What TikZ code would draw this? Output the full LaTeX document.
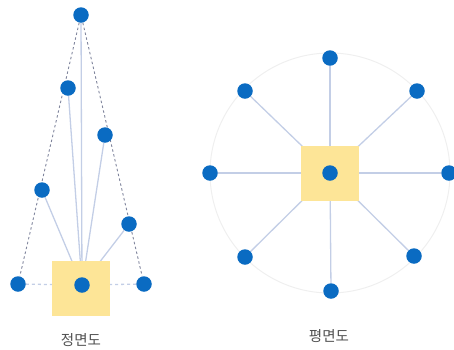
\documentclass[tikz,border=0pt]{standalone}
\usepackage{fontspec}
\newfontfamily\cjk{Noto Sans CJK KR}
\usetikzlibrary{backgrounds}
\definecolor{dotblue}{HTML}{0A6BC2}
\definecolor{boxyellow}{HTML}{FDE597}
\definecolor{spoke}{HTML}{C3CEE6}
\definecolor{ringgray}{HTML}{EFEFEF}
\definecolor{dashgray}{HTML}{7F849C}
\definecolor{labelgray}{HTML}{505050}
\tikzset{
  x=1pt,y=-1pt,
  dot/.style={circle,fill=dotblue,draw=none,minimum size=15.5pt,inner sep=0pt},
  boxy/.style={rectangle,fill=boxyellow,draw=none,minimum width=58pt,minimum height=55pt,inner sep=0pt},
  spokeline/.style={draw=spoke,line width=1.3pt},
  guide/.style={draw=dashgray,line width=0.9pt,dash pattern=on 2.5pt off 2.5pt},
  sideguide/.style={draw=spoke,line width=1.3pt,dash pattern=on 3pt off 3pt},
  ring/.style={draw=ringgray,line width=1pt},
  viewlabel/.style={font=\cjk\fontsize{14.5}{16}\selectfont,text=labelgray,inner sep=0pt}
}
\begin{document}
\begin{tikzpicture}
\useasboundingbox (0,0) rectangle (454,349);
% front view
\node[boxy] (fbox) at (80.5,288.5) {};
\node[dot] (fc) at (82,285) {};
\node[dot] (f1) at (81,15) {};
\node[dot] (f2) at (68,88) {};
\node[dot] (f3) at (105,135) {};
\node[dot] (f4) at (42,190) {};
\node[dot] (f5) at (129,224) {};
\node[dot] (f6) at (18,284) {};
\node[dot] (f7) at (144,284) {};
\node[viewlabel] (fl) at (81,340) {정면도};
% plan view
\node[boxy] (pbox) at (330,173.5) {};
\node[dot] (pc) at (330,173) {};
\node[dot] (p1) at (330,58) {};
\node[dot] (p2) at (245,91) {};
\node[dot] (p3) at (417,91) {};
\node[dot] (p4) at (210,173) {};
\node[dot] (p5) at (449,173) {};
\node[dot] (p6) at (245,257) {};
\node[dot] (p7) at (414,256) {};
\node[dot] (p8) at (331,291) {};
\node[viewlabel] (pl) at (329,336) {평면도};
\begin{pgfonlayer}{background}
\draw[ring] (pc) circle[radius=120];
\foreach \n in {f1,f2,f3,f4,f5} \draw[spokeline] (\n) -- (fc);
\draw[guide] (f1) -- (f6);
\draw[guide] (f1) -- (f7);
\draw[sideguide] (f6) -- (fc);
\draw[sideguide] (f7) -- (fc);
\foreach \n in {p1,p2,p3,p4,p5,p6,p7,p8} \draw[spokeline] (\n) -- (pc);
\end{pgfonlayer}
\end{tikzpicture}
\end{document}
